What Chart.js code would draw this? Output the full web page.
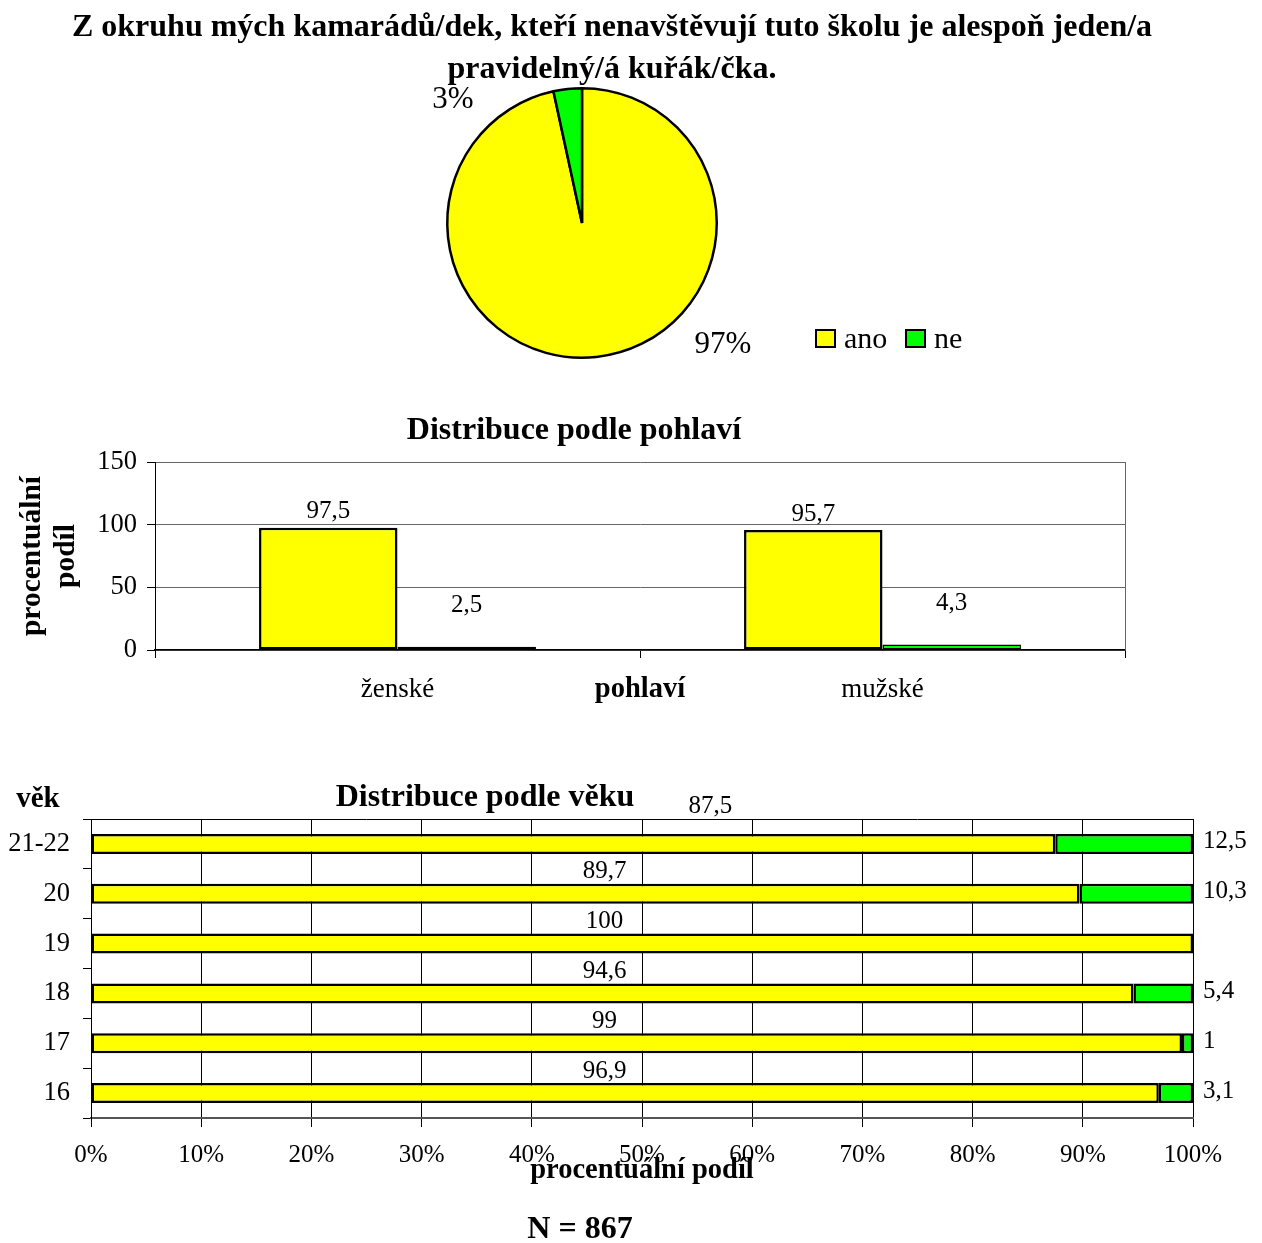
<!DOCTYPE html>
<html lang="cs">
<head>
  <meta charset="UTF-8" />
  <title>Kamarádi kuřáci</title>
  <script src="https://cdn.jsdelivr.net/npm/chart.js@4"></script>
  <style>
    body { margin: 0; background: #fff; }
    .wrap { position: relative; width: 1262px; height: 1243px; }
    canvas { position: absolute; left: 0; }
  </style>
</head>
<body>
<div class="wrap">
  <canvas id="pie" width="1262" height="380" style="top:0"></canvas>
  <canvas id="sex" width="1262" height="340" style="top:380px"></canvas>
  <canvas id="age" width="1262" height="523" style="top:720px"></canvas>
</div>
<script>
  // celkem
  const odpovedi = ['ano', 'ne'];
  const celkem = [96.6, 3.4];
  // podle pohlaví
  const pohlavi = ['ženské', 'mužské'];
  const pohlaviAno = [97.5, 95.7];
  const pohlaviNe = [2.5, 4.3];
  // podle věku
  const vek = ['16', '17', '18', '19', '20', '21-22'];
  const vekAno = [96.9, 99, 94.6, 100, 89.7, 87.5];
  const vekNe = [3.1, 1, 5.4, 0, 10.3, 12.5];

  const ZLUTA = '#ffff00';
  const ZELENA = '#00ff00';
  const SERIF = "'Liberation Serif', 'DejaVu Serif', serif";

  Chart.defaults.font.family = SERIF;
  Chart.defaults.color = '#000';
  Chart.defaults.animation = false;
  Chart.defaults.events = [];
  Chart.defaults.plugins.legend.display = false;
  Chart.defaults.plugins.tooltip.enabled = false;

  const carka = v => String(v).replace('.', ',');

  function text(ctx, s, x, y, size, bold, align) {
    ctx.save();
    ctx.font = (bold ? 'bold ' : '') + size + 'px ' + SERIF;
    ctx.fillStyle = '#000';
    ctx.textAlign = align || 'center';
    ctx.textBaseline = 'middle';
    ctx.fillText(s, x, y);
    ctx.restore();
  }

  // --- kolac ---
  new Chart(document.getElementById('pie'), {
    type: 'pie',
    data: {
      labels: odpovedi,
      datasets: [{
        data: celkem,
        backgroundColor: [ZLUTA, ZELENA],
        borderColor: '#000',
        borderWidth: 2.5,
        hoverOffset: 0
      }]
    },
    options: {
      responsive: false,
      layout: { padding: { left: 446, right: 544, top: 87, bottom: 21 } }
    },
    plugins: [{
      id: 'popisky',
      afterDraw(chart) {
        const ctx = chart.ctx;
        text(ctx, 'Z okruhu mých kamarádů/dek, kteří nenavštěvují tuto školu je alespoň jeden/a', 612, 28, 32, true);
        text(ctx, 'pravidelný/á kuřák/čka.', 612, 70, 32, true);
        const sum = celkem.reduce((a, b) => a + b, 0);
        const pct = celkem.map(v => Math.round(v / sum * 100) + '%');
        const { x, y } = chart.getDatasetMeta(0).data[0];
        text(ctx, pct[0], x + 141, y + 122, 31);
        text(ctx, pct[1], x - 129, y - 123, 31);
        // legenda
        const barvy = [ZLUTA, ZELENA];
        const lx = [816, 906];
        odpovedi.forEach((o, i) => {
          ctx.fillStyle = barvy[i];
          ctx.fillRect(lx[i], 330, 19, 17);
          ctx.lineWidth = 2;
          ctx.strokeStyle = '#000';
          ctx.strokeRect(lx[i], 330, 19, 17);
          text(ctx, o, lx[i] + 28, 340, 30, false, 'left');
        });
      }
    }]
  });

  // --- podle pohlavi ---
  new Chart(document.getElementById('sex'), {
    type: 'bar',
    data: {
      labels: pohlavi,
      datasets: [
        { label: 'ano', data: pohlaviAno, backgroundColor: ZLUTA, borderWidth: 2.5 },
        { label: 'ne', data: pohlaviNe, backgroundColor: ZELENA, borderWidth: 1.5 }
      ]
    },
    options: {
      responsive: false,
      layout: { padding: { left: 0, right: 137, top: 82, bottom: 10 } },
      datasets: {
        bar: { borderColor: '#000', borderSkipped: false, categoryPercentage: 0.571, barPercentage: 1 }
      },
      scales: {
        x: {
          grid: { drawOnChartArea: false, tickLength: 8, tickColor: '#000' },
          border: { color: '#000', width: 1.5 },
          ticks: { font: { size: 27 }, padding: 16 },
          title: { display: true, text: 'pohlaví', font: { size: 28.5, weight: 'bold' }, padding: { top: 0, bottom: 3 } },
          afterFit(s) { s.height = 60; }
        },
        y: {
          min: 0, max: 150,
          ticks: { stepSize: 50, font: { size: 26.5 }, padding: 10 },
          grid: { color: '#666', tickLength: 8, tickColor: '#000' },
          border: { color: '#000' },
          title: {
            display: true, text: ['procentuální', 'podíl'],
            font: { size: 29.5, weight: 'bold', lineHeight: 1.15 },
            padding: { top: 15, bottom: 0 }
          },
          afterFit(s) { s.width = 155; }
        }
      }
    },
    plugins: [{
      id: 'popisky',
      afterDatasetsDraw(chart) {
        const ctx = chart.ctx, a = chart.chartArea;
        ctx.save();
        ctx.strokeStyle = '#666';
        ctx.lineWidth = 1;
        ctx.beginPath();
        ctx.moveTo(a.right + 0.5, a.top);
        ctx.lineTo(a.right + 0.5, a.bottom);
        ctx.stroke();
        ctx.restore();
        const posun = [16, 41];
        chart.data.datasets.forEach((ds, i) => {
          chart.getDatasetMeta(i).data.forEach((bar, j) => {
            text(ctx, carka(ds.data[j]), bar.x, bar.y - posun[i], 25);
          });
        });
        text(ctx, 'Distribuce podle pohlaví', 574, 51, 32, true);
      }
    }]
  });

  // --- podle veku ---
  new Chart(document.getElementById('age'), {
    type: 'bar',
    data: {
      labels: vek,
      datasets: [
        { label: 'ano', data: vekAno, backgroundColor: ZLUTA },
        { label: 'ne', data: vekNe, backgroundColor: ZELENA }
      ]
    },
    options: {
      indexAxis: 'y',
      responsive: false,
      layout: { padding: { left: 0, right: 69, top: 99, bottom: 55 } },
      datasets: {
        bar: { borderColor: '#000', borderWidth: 2.5, borderSkipped: false, categoryPercentage: 1, barPercentage: 0.4 }
      },
      scales: {
        x: {
          stacked: true, min: 0, max: 100,
          ticks: { stepSize: 10, callback: v => v + '%', font: { size: 25 }, padding: 13 },
          grid: { color: '#000', tickLength: 9, tickColor: '#000' },
          border: { color: '#555', width: 2 },
          title: { display: true, text: 'procentuální podíl', font: { size: 28.5, weight: 'bold' }, padding: { top: 0, bottom: 0 } },
          afterFit(s) { s.height = 70; }
        },
        y: {
          stacked: true, reverse: true,
          ticks: { font: { size: 26.5 }, padding: 13 },
          grid: { drawOnChartArea: false, tickLength: 8, tickColor: '#000' },
          border: { color: '#000' },
          afterFit(s) { s.width = 91; }
        }
      }
    },
    plugins: [{
      id: 'popisky',
      afterDatasetsDraw(chart) {
        const ctx = chart.ctx, a = chart.chartArea, xs = chart.scales.x;
        ctx.save();
        ctx.strokeStyle = '#000';
        ctx.lineWidth = 1;
        ctx.beginPath();
        ctx.moveTo(a.left, a.top + 0.5);
        ctx.lineTo(a.right, a.top + 0.5);
        ctx.stroke();
        ctx.restore();
        const ano = chart.getDatasetMeta(0).data;
        const ne = chart.getDatasetMeta(1).data;
        vekAno.forEach((v, i) => {
          const b = ano[i];
          let x = xs.getPixelForValue(46.6);
          let y = b.y - b.height / 2 - 12;
          if (vek[i] === '21-22') { x = xs.getPixelForValue(56.2); y -= 16; }
          text(ctx, carka(v), x, y, 25);
        });
        vekNe.forEach((v, i) => {
          if (v > 0) text(ctx, carka(v), a.right + 10, ne[i].y - 2, 25, false, 'left');
        });
        text(ctx, 'Distribuce podle věku', 485, 78, 32, true);
        text(ctx, 'věk', 38, 80, 29, true);
        text(ctx, 'N = 867', 580, 510, 32, true);
      }
    }]
  });
</script>
</body>
</html>
